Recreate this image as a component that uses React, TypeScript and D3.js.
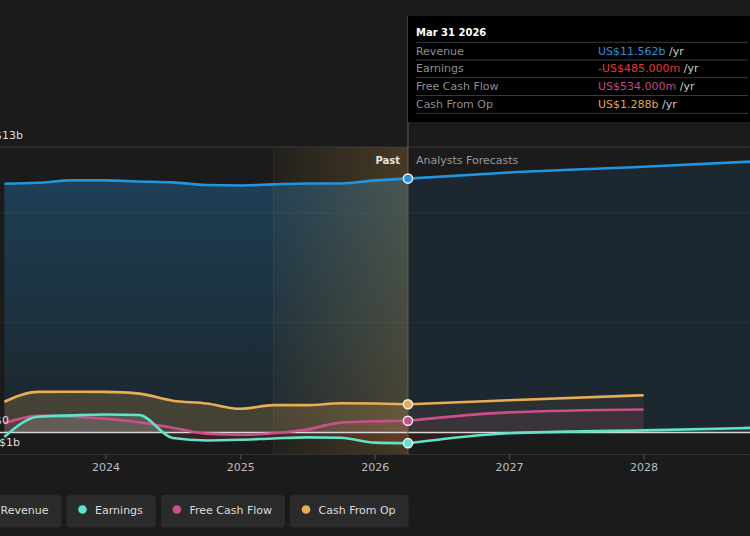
import React from "react";
import * as d3 from "d3";

// Reported quarters (trailing twelve months, US$ billions)
const pastDates = [
  "2023-03-31", "2023-06-30", "2023-09-30", "2023-12-31",
  "2024-03-31", "2024-06-30", "2024-09-30", "2024-12-31",
  "2025-03-31", "2025-06-30", "2025-09-30", "2025-12-31", "2026-03-31",
];
const revenuePast = [11.33, 11.37, 11.48, 11.48, 11.43, 11.39, 11.27, 11.25, 11.3, 11.34, 11.34, 11.48, 11.562];
const earningsPast = [-0.2, 0.72, 0.78, 0.82, 0.8, -0.25, -0.36, -0.33, -0.27, -0.22, -0.24, -0.46, -0.485];
const fcfPast = [0.42, 0.76, 0.72, 0.63, 0.47, 0.22, -0.05, -0.1, -0.03, 0.14, 0.45, 0.51, 0.534];
const cfoPast = [1.4, 1.85, 1.86, 1.85, 1.77, 1.45, 1.32, 1.08, 1.25, 1.25, 1.33, 1.32, 1.288];

// Analyst forecasts
const forecastDates = ["2026-03-31", "2026-12-31", "2027-12-31", "2028-12-31"];
const revenueForecast = [11.562, 11.84, 12.1, 12.4];
const earningsForecast = [-0.485, -0.03, 0.1, 0.24];
const fcfForecast = [0.534, 0.92, 1.05];
const cfoForecast = [1.288, 1.47, 1.7];

const xTicks = ["2024", "2025", "2026", "2027", "2028"];
const yLabels = [
  { v: 13, text: "US$13b" },
  { v: 0, text: "US$0" },
  { v: -1, text: "-US$1b" },
];
const gridValues = [5, 10];

const seriesNames = ["Revenue", "Earnings", "Free Cash Flow", "Cash From Op"];
const seriesColors = ["#2394df", "#5fe3c9", "#c94f8d", "#e9ad55"];
const tooltipValues = ["US$11.562b", "-US$485.000m", "US$534.000m", "US$1.288b"];
const tooltipColors = ["#2a92dc", "#e5392e", "#c4468b", "#e3a64c"];
const tooltipDate = "Mar 31 2026";

const W = 750;
const H = 536;
const FONT = "DejaVu Sans, Verdana, sans-serif";

type P = { d: Date; v: number };
const parse = d3.utcParse("%Y-%m-%d");
const pts = (dates: string[], vals: number[]): P[] =>
  vals.map((v, i) => ({ d: parse(dates[i]) as Date, v }));

function textWidth(s: string, font: string): number {
  try {
    const c = document.createElement("canvas").getContext("2d");
    if (c) {
      c.font = font;
      return c.measureText(s).width;
    }
  } catch (e) {
    /* fall through */
  }
  return s.length * 6.5;
}

export default function App() {
  const x = d3
    .scaleUtc()
    .domain([new Date(Date.UTC(2024, 0, 1)), new Date(Date.UTC(2028, 0, 1))])
    .range([106, 644]);
  const y = d3.scaleLinear().domain([-1, 13]).range([454.5, 147]);
  const top = y(13);
  const bottom = y(-1);
  const zero = y(0);

  const line = d3
    .line<P>()
    .x((p) => x(p.d))
    .y((p) => y(p.v))
    .curve(d3.curveMonotoneX);
  const area = d3
    .area<P>()
    .x((p) => x(p.d))
    .y0(zero)
    .y1((p) => y(p.v))
    .curve(d3.curveMonotoneX);

  const past = [
    pts(pastDates, revenuePast),
    pts(pastDates, earningsPast),
    pts(pastDates, fcfPast),
    pts(pastDates, cfoPast),
  ];
  const fut = [
    pts(forecastDates, revenueForecast),
    pts(forecastDates, earningsForecast),
    pts(forecastDates, fcfForecast),
    pts(forecastDates, cfoForecast),
  ];

  const nowDate = parse(pastDates[pastDates.length - 1]) as Date;
  const nowX = x(nowDate);
  const bandX = x(parse("2025-03-31") as Date);

  // Legend layout
  const legendFont = `11px ${FONT}`;
  let lx = -28;
  const legend = seriesNames.map((name, i) => {
    const w = 28.6 + textWidth(name, legendFont) + 13;
    const item = { name, color: seriesColors[i], x: lx, w };
    lx += w + 5;
    return item;
  });

  const rowYs = [50.5, 68.3, 86, 103.5];
  const sepYs = [42.3, 60, 77.7, 95.5, 113.3];

  return (
    <svg
      width={W}
      height={H}
      viewBox={`0 0 ${W} ${H}`}
      style={{ position: "absolute", left: 0, top: 0, display: "block" }}
      fontFamily={FONT}
    >
      <defs>
        <linearGradient id="revPast" x1="0" y1="0" x2="0" y2="1" gradientUnits="objectBoundingBox">
          <stop offset="0" stopColor="#2394df" stopOpacity={0.3} />
          <stop offset="1" stopColor="#2394df" stopOpacity={0.08} />
        </linearGradient>
        <linearGradient id="band" x1="0" y1="0" x2="1" y2="0">
          <stop offset="0" stopColor="#e0a845" stopOpacity={0.04} />
          <stop offset="1" stopColor="#e0a845" stopOpacity={0.22} />
        </linearGradient>
        <clipPath id="aboveZero">
          <rect x={0} y={0} width={W} height={zero} />
        </clipPath>
        <clipPath id="belowZero">
          <rect x={0} y={zero} width={W} height={H - zero} />
        </clipPath>
        <clipPath id="plot">
          <rect x={0} y={top - 2} width={W} height={bottom - top + 4} />
        </clipPath>
      </defs>

      <rect x={0} y={0} width={W} height={H} fill="#1b1b1b" />

      <g clipPath="url(#plot)">
        {/* revenue areas */}
        <path d={area(past[0]) || ""} fill="url(#revPast)" />
        <path d={area(fut[0]) || ""} fill="#2394df" fillOpacity={0.1} />

        {/* cash from operations */}
        <path d={area(past[3]) || ""} fill="#e9ad55" fillOpacity={0.2} />
        <path d={area(fut[3]) || ""} fill="#e9ad55" fillOpacity={0.08} />

        {/* free cash flow */}
        <path d={area(past[2]) || ""} fill="#c94f8d" fillOpacity={0.14} />
        <path d={area(fut[2]) || ""} fill="#c94f8d" fillOpacity={0.1} />

        {/* earnings: light above zero, red below */}
        <path d={area(past[1]) || ""} fill="#9fe8da" fillOpacity={0.16} clipPath="url(#aboveZero)" />
        <path d={area(past[1]) || ""} fill="#e03c31" fillOpacity={0.16} clipPath="url(#belowZero)" />
        <path d={area(fut[1]) || ""} fill="#9fe8da" fillOpacity={0.08} clipPath="url(#aboveZero)" />
        <path d={area(fut[1]) || ""} fill="#e03c31" fillOpacity={0.1} clipPath="url(#belowZero)" />

        {/* recent past highlight band */}
        <rect x={bandX} y={top} width={nowX - bandX} height={bottom - top} fill="url(#band)" />
        <line x1={bandX} x2={bandX} y1={top} y2={bottom} stroke="#ffffff" strokeOpacity={0.07} />

        {/* grid */}
        {gridValues.map((g) => (
          <line key={g} x1={0} x2={W} y1={y(g)} y2={y(g)} stroke="#ffffff" strokeOpacity={0.05} />
        ))}
        <line x1={0} x2={W} y1={zero} y2={zero} stroke="#d8d8d8" strokeWidth={1.5} />

        {/* series lines */}
        {[3, 2, 1, 0].map((i) => (
          <g key={i}>
            <path d={line(past[i]) || ""} fill="none" stroke={seriesColors[i]} strokeWidth={2.6} />
            <path d={line(fut[i]) || ""} fill="none" stroke={seriesColors[i]} strokeWidth={2.6} />
          </g>
        ))}
      </g>

      {/* top and bottom frame */}
      <line x1={0} x2={W} y1={top} y2={top} stroke="#3a3a3a" strokeWidth={1.2} />
      <line x1={0} x2={W} y1={bottom} y2={bottom} stroke="#333" strokeWidth={1.2} />

      {/* x axis */}
      {xTicks.map((t) => {
        const tx = x(parse(`${t}-01-01`) as Date);
        return (
          <g key={t}>
            <line x1={tx} x2={tx} y1={bottom} y2={bottom + 5} stroke="#555" />
            <text x={tx} y={471} textAnchor="middle" fontSize={11} fill="#bdbdbd">
              {t}
            </text>
          </g>
        );
      })}

      {/* y labels */}
      {yLabels.map((l) => (
        <text
          key={l.text}
          x={-20}
          y={l.v === 13 ? y(l.v) - 8 : l.v === 0 ? y(l.v) - 8.5 : y(l.v) - 8.5}
          fontSize={11}
          fill="#dddddd"
        >
          {l.text}
        </text>
      ))}

      {/* now marker line */}
      <line x1={nowX} x2={nowX} y1={16} y2={bottom} stroke="#6b6048" strokeWidth={1} />

      <text x={nowX - 8} y={163.5} textAnchor="end" fontSize={10} fontWeight="bold" fill="#e6e6e6">
        Past
      </text>
      <text x={nowX + 8} y={163.5} fontSize={11} fill="#9a9a9a">
        Analysts Forecasts
      </text>

      {/* point markers */}
      {[3, 2, 1, 0].map((i) => {
        const last = past[i][past[i].length - 1];
        return (
          <circle
            key={i}
            cx={x(last.d)}
            cy={y(last.v)}
            r={4.6}
            fill={seriesColors[i]}
            stroke="#f0f0f0"
            strokeWidth={1.5}
          />
        );
      })}

      {/* tooltip */}
      <g>
        <rect x={nowX} y={16} width={W - nowX + 2} height={106} fill="#000000" />
        <text x={nowX + 8} y={35.5} fontSize={10} fontWeight="bold" fill="#ffffff">
          {tooltipDate}
        </text>
        {sepYs.map((sy) => (
          <line key={sy} x1={nowX + 8} x2={W - 2} y1={sy} y2={sy} stroke="#3a3a3a" strokeWidth={1} />
        ))}
        {seriesNames.map((name, i) => (
          <g key={name}>
            <text x={nowX + 8} y={rowYs[i] + 4} fontSize={11} fill="#8f8f8f">
              {name}
            </text>
            <text x={598} y={rowYs[i] + 4} fontSize={11}>
              <tspan fill={tooltipColors[i]}>{tooltipValues[i]}</tspan>
              <tspan fill="#cccccc"> /yr</tspan>
            </text>
          </g>
        ))}
      </g>

      {/* legend */}
      {legend.map((it) => (
        <g key={it.name}>
          <rect x={it.x} y={495} width={it.w} height={32.5} rx={4} fill="#2b2b2b" />
          <circle cx={it.x + 16} cy={509.5} r={4.3} fill={it.color} />
          <text x={it.x + 28.6} y={513.5} fontSize={11} fill="#dddddd">
            {it.name}
          </text>
        </g>
      ))}
    </svg>
  );
}
